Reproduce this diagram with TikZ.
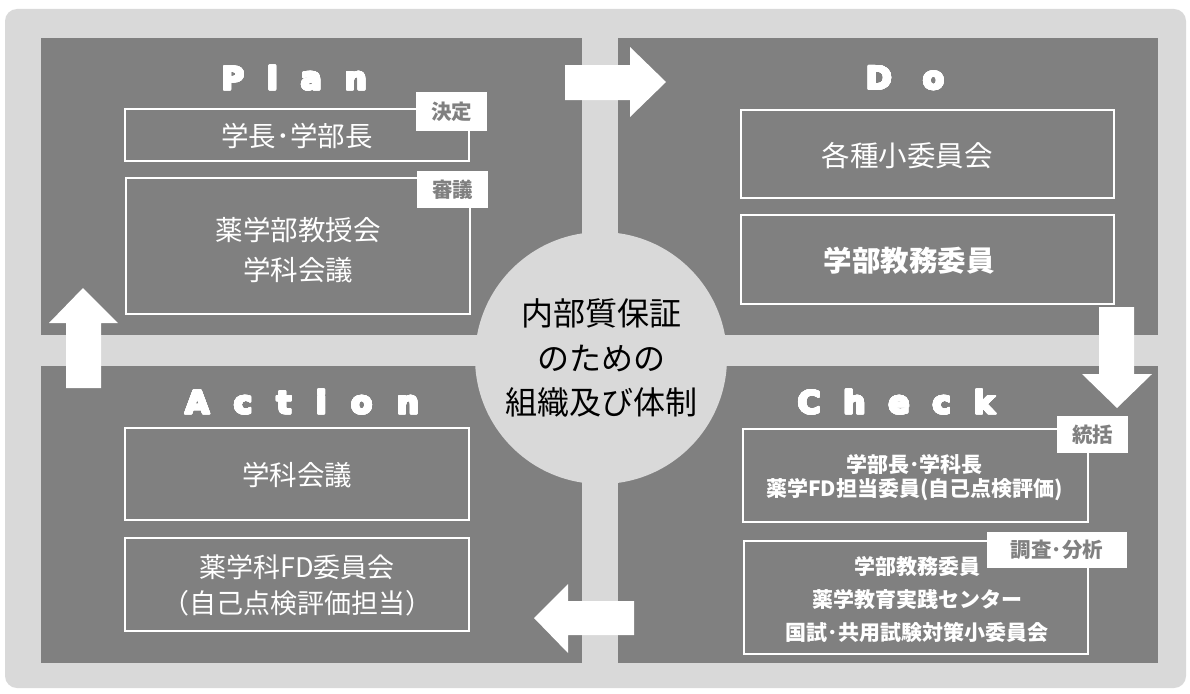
\documentclass[tikz,border=0pt]{standalone}
\usepackage{fontspec}
\usepackage[copies]{contour}
\contourlength{0.7pt}
\contournumber{24}
\newfontfamily\jp{Noto Sans CJK JP}
\newfontfamily\ttl{DejaVu Sans Bold}[FakeBold=3]
\definecolor{bgray}{HTML}{D9D9D9}
\definecolor{qgray}{HTML}{808080}
\newcommand\lsp{\hspace{23pt}}
\newcommand\heavy[1]{\contour{white}{#1}}
\tikzset{
  quad/.style={fill=qgray, draw=none},
  wbox/.style={draw=white, line width=2.5pt, fill=none, inner sep=0pt},
  wtext/.style={text=white, align=center, inner sep=0pt},
  tag/.style={fill=white, draw=none, text=qgray, inner sep=0pt, font=\jp\bfseries\fontsize{20.5}{24}\selectfont},
  ttlstyle/.style={text=white, inner sep=0pt, font=\ttl\fontsize{31}{34}\selectfont},
  warrow/.style={fill=white, draw=none}
}
\begin{document}
\begin{tikzpicture}[x=1pt,y=-1pt]
\useasboundingbox (0,0) rectangle (1190,693);
% background
\fill[bgray, rounded corners=12pt] (5,9) rectangle (1186,688);
% quadrants
\path[quad] (41,38) rectangle (582,335);
\path[quad] (618,38) rectangle (1158,335);
\path[quad] (41,366) rectangle (582,663);
\path[quad] (618,366) rectangle (1158,663);
% centre circle
\node[circle, fill=bgray, minimum size=252pt, inner sep=0pt, align=center,
      font=\jp\fontsize{32}{44.5}\selectfont, text=black] (core) at (601,358)
  {内部質保証\\のための\\組織及び体制};
% arrows
\fill[warrow] (565,65) -- (630,65) -- (630,47) -- (666,82) -- (630,117) -- (630,100) -- (565,100) -- cycle;
\fill[warrow] (1099,307) -- (1134,307) -- (1134,374) -- (1152,374) -- (1117,408) -- (1082,374) -- (1099,374) -- cycle;
\fill[warrow] (634,601) -- (568,601) -- (568,584) -- (534,618) -- (568,653) -- (568,635) -- (634,635) -- cycle;
\fill[warrow] (66,388) -- (66,323) -- (49,323) -- (83,288) -- (118,323) -- (101,323) -- (101,388) -- cycle;
% titles
\node[ttlstyle] (tplan) at (294,78) {\heavy{P}\lsp\heavy{l}\lsp\heavy{a}\lsp\heavy{n}};
\node[ttlstyle] (tdo) at (905,78) {\heavy{D}\hspace{31pt}\heavy{o}};
\node[ttlstyle] (taction) at (302,402) {\heavy{A}\hspace{24.5pt}\heavy{c}\hspace{24.5pt}\heavy{t}\hspace{24.5pt}\heavy{i}\hspace{24.5pt}\heavy{o}\hspace{24.5pt}\heavy{n}};
\node[ttlstyle] (tcheck) at (896,402) {\heavy{C}\lsp\heavy{h}\lsp\heavy{e}\lsp\heavy{c}\lsp\heavy{k}};
% Plan
\node[wbox, minimum width=344pt, minimum height=52pt] (p1) at (297,135) {};
\node[wtext, font=\jp\fontsize{27.5}{40}\selectfont] (p1x) at (297,136) {学長･学部長};
\node[tag, minimum width=71pt, minimum height=39pt] (p1t) at (451.5,111.5) {決定};
\node[wbox, minimum width=344pt, minimum height=136pt] (p2) at (298,246) {};
\node[wtext, font=\jp\fontsize{27.5}{40}\selectfont] (p2x) at (298,250) {薬学部教授会\\学科会議};
\node[tag, minimum width=71pt, minimum height=37pt] (p2t) at (452.5,189.5) {審議};
% Do
\node[wbox, minimum width=373pt, minimum height=88pt] (d1) at (927.5,154) {};
\node[wtext, font=\jp\fontsize{28.5}{40}\selectfont] (d1x) at (907,156) {各種小委員会};
\node[wbox, minimum width=373pt, minimum height=89pt] (d2) at (927.5,259.5) {};
\node[wtext, font=\jp\bfseries\fontsize{28.5}{40}\selectfont] (d2x) at (909,261) {学部教務委員};
% Action
\node[wbox, minimum width=344pt, minimum height=92pt] (a1) at (297,474) {};
\node[wtext, font=\jp\fontsize{27.5}{40}\selectfont] (a1x) at (297,475) {学科会議};
\node[wbox, minimum width=344pt, minimum height=93pt] (a2) at (297,584.5) {};
\node[wtext, font=\jp\fontsize{27}{36}\selectfont] (a2x) at (297,585.5) {薬学科FD委員会\\（自己点検評価担当）};
% Check
\node[wbox, minimum width=345pt, minimum height=93pt] (c1) at (915.5,475.5) {};
\node[wtext, font=\jp\bfseries\fontsize{21}{24.5}\selectfont] (c1x) at (914.5,477.5) {学部長･学科長\\薬学FD担当委員(自己点検評価)};
\node[tag, minimum width=71pt, minimum height=37pt] (c1t) at (1092.5,434.5) {統括};
\node[wbox, minimum width=344pt, minimum height=113pt] (c2) at (916,597.5) {};
\node[wtext, font=\jp\bfseries\fontsize{21}{33}\selectfont] (c2x) at (917,600) {学部教務委員\\薬学教育実践センター\\国試･共用試験対策小委員会};
\node[tag, minimum width=140pt, minimum height=36pt] (c2t) at (1057,550) {調査･分析};
\end{tikzpicture}
\end{document}
